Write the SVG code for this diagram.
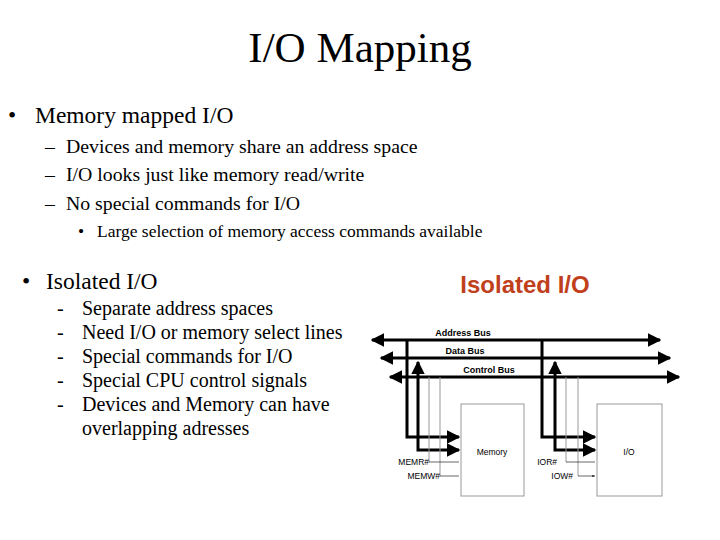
<svg xmlns="http://www.w3.org/2000/svg" width="720" height="540" viewBox="0 0 720 540">
<style>
.t{font-family:"Liberation Serif",serif;fill:#000}
.l1{font-size:23.5px}
.l2{font-size:19.8px}
.l3{font-size:17.5px}
.l4{font-size:20px}
.a{font-family:"Liberation Sans",Arial,sans-serif;font-weight:bold;font-size:9px;fill:#000}
.s{font-family:"Liberation Sans",Arial,sans-serif;font-size:8.5px;fill:#000}
.bus{stroke:#000;stroke-width:3;fill:none}
.thin{stroke:#999;stroke-width:1;fill:none}
.box{stroke:#999;stroke-width:1;fill:#fff}
</style>
<defs>
<marker id="ah" viewBox="0 0 10 10" refX="9" refY="5" markerWidth="4.5" markerHeight="4.5" orient="auto-start-reverse"><path d="M0,0L10,5L0,10z" fill="#000"/></marker>
<marker id="sm" viewBox="0 0 10 10" refX="9" refY="5" markerWidth="5" markerHeight="5" orient="auto"><path d="M0,2L10,5L0,8z" fill="#000"/></marker>
</defs>
<rect width="720" height="540" fill="#fff"/>
<g id="text">
<text class="t" x="360" y="62" font-size="43" text-anchor="middle">I/O Mapping</text>
<text class="t l1" x="8" y="123">•</text><text class="t l1" x="35" y="123">Memory mapped I/O</text>
<text class="t l2" x="45" y="153">–</text><text class="t l2" x="66" y="153">Devices and memory share an address space</text>
<text class="t l2" x="45" y="181">–</text><text class="t l2" x="66" y="181">I/O looks just like memory read/write</text>
<text class="t l2" x="45" y="210">–</text><text class="t l2" x="66" y="210">No special commands for I/O</text>
<text class="t l3" x="78" y="237">•</text><text class="t l3" x="97" y="237">Large selection of memory access commands available</text>
<text class="t l1" x="22" y="289">•</text><text class="t l1" x="46" y="289">Isolated I/O</text>
<text class="t l4" x="57" y="315">-</text><text class="t l4" x="82" y="315">Separate address spaces</text>
<text class="t l4" x="57" y="339">-</text><text class="t l4" x="82" y="339">Need I/O or memory select lines</text>
<text class="t l4" x="57" y="363">-</text><text class="t l4" x="82" y="363">Special commands for I/O</text>
<text class="t l4" x="57" y="387">-</text><text class="t l4" x="82" y="387">Special CPU control signals</text>
<text class="t l4" x="57" y="411">-</text><text class="t l4" x="82" y="411">Devices and Memory can have</text>
<text class="t l4" x="82" y="435">overlapping adresses</text>
</g>
<text x="525" y="293" font-family="Liberation Sans,Arial,sans-serif" font-weight="bold" font-size="24" fill="#c0401c" text-anchor="middle">Isolated I/O</text>
<g id="memory"><rect class="box" x="461" y="404" width="63" height="92"/><text class="s" x="492" y="455" text-anchor="middle">Memory</text></g>
<g id="io"><rect class="box" x="597" y="404" width="65" height="92"/><text class="s" x="629" y="455" text-anchor="middle">I/O</text></g>
<g id="connectors">
<path class="bus" d="M372,340H660" marker-start="url(#ah)" marker-end="url(#ah)"/>
<path class="bus" d="M381,358H670" marker-start="url(#ah)" marker-end="url(#ah)"/>
<path class="bus" d="M390,377H679" marker-start="url(#ah)" marker-end="url(#ah)"/>
<path class="bus" d="M407,340V437H459" marker-end="url(#ah)"/>
<path class="bus" d="M459,450H418V362" marker-start="url(#ah)" marker-end="url(#ah)"/>
<path class="bus" d="M542,340V437H595" marker-end="url(#ah)"/>
<path class="bus" d="M595,450H555V362" marker-start="url(#ah)" marker-end="url(#ah)"/>
<path class="thin" d="M429,377V462M440,377V476M566,377V462M578,377V476"/>
<path stroke="#000" stroke-width="0.6" d="M429,462H459M440,476H459M566,462H595M578,476H595" marker-end="url(#sm)"/>
</g>
<g id="labels">
<text class="a" x="463" y="336" text-anchor="middle">Address Bus</text>
<text class="a" x="465" y="354" text-anchor="middle">Data Bus</text>
<text class="a" x="489" y="373" text-anchor="middle">Control Bus</text>
<text class="s" x="429" y="465" text-anchor="end">MEMR#</text>
<text class="s" x="440" y="479" text-anchor="end">MEMW#</text>
<text class="s" x="557" y="465" text-anchor="end">IOR#</text>
<text class="s" x="573" y="479" text-anchor="end">IOW#</text>
</g>
</svg>
